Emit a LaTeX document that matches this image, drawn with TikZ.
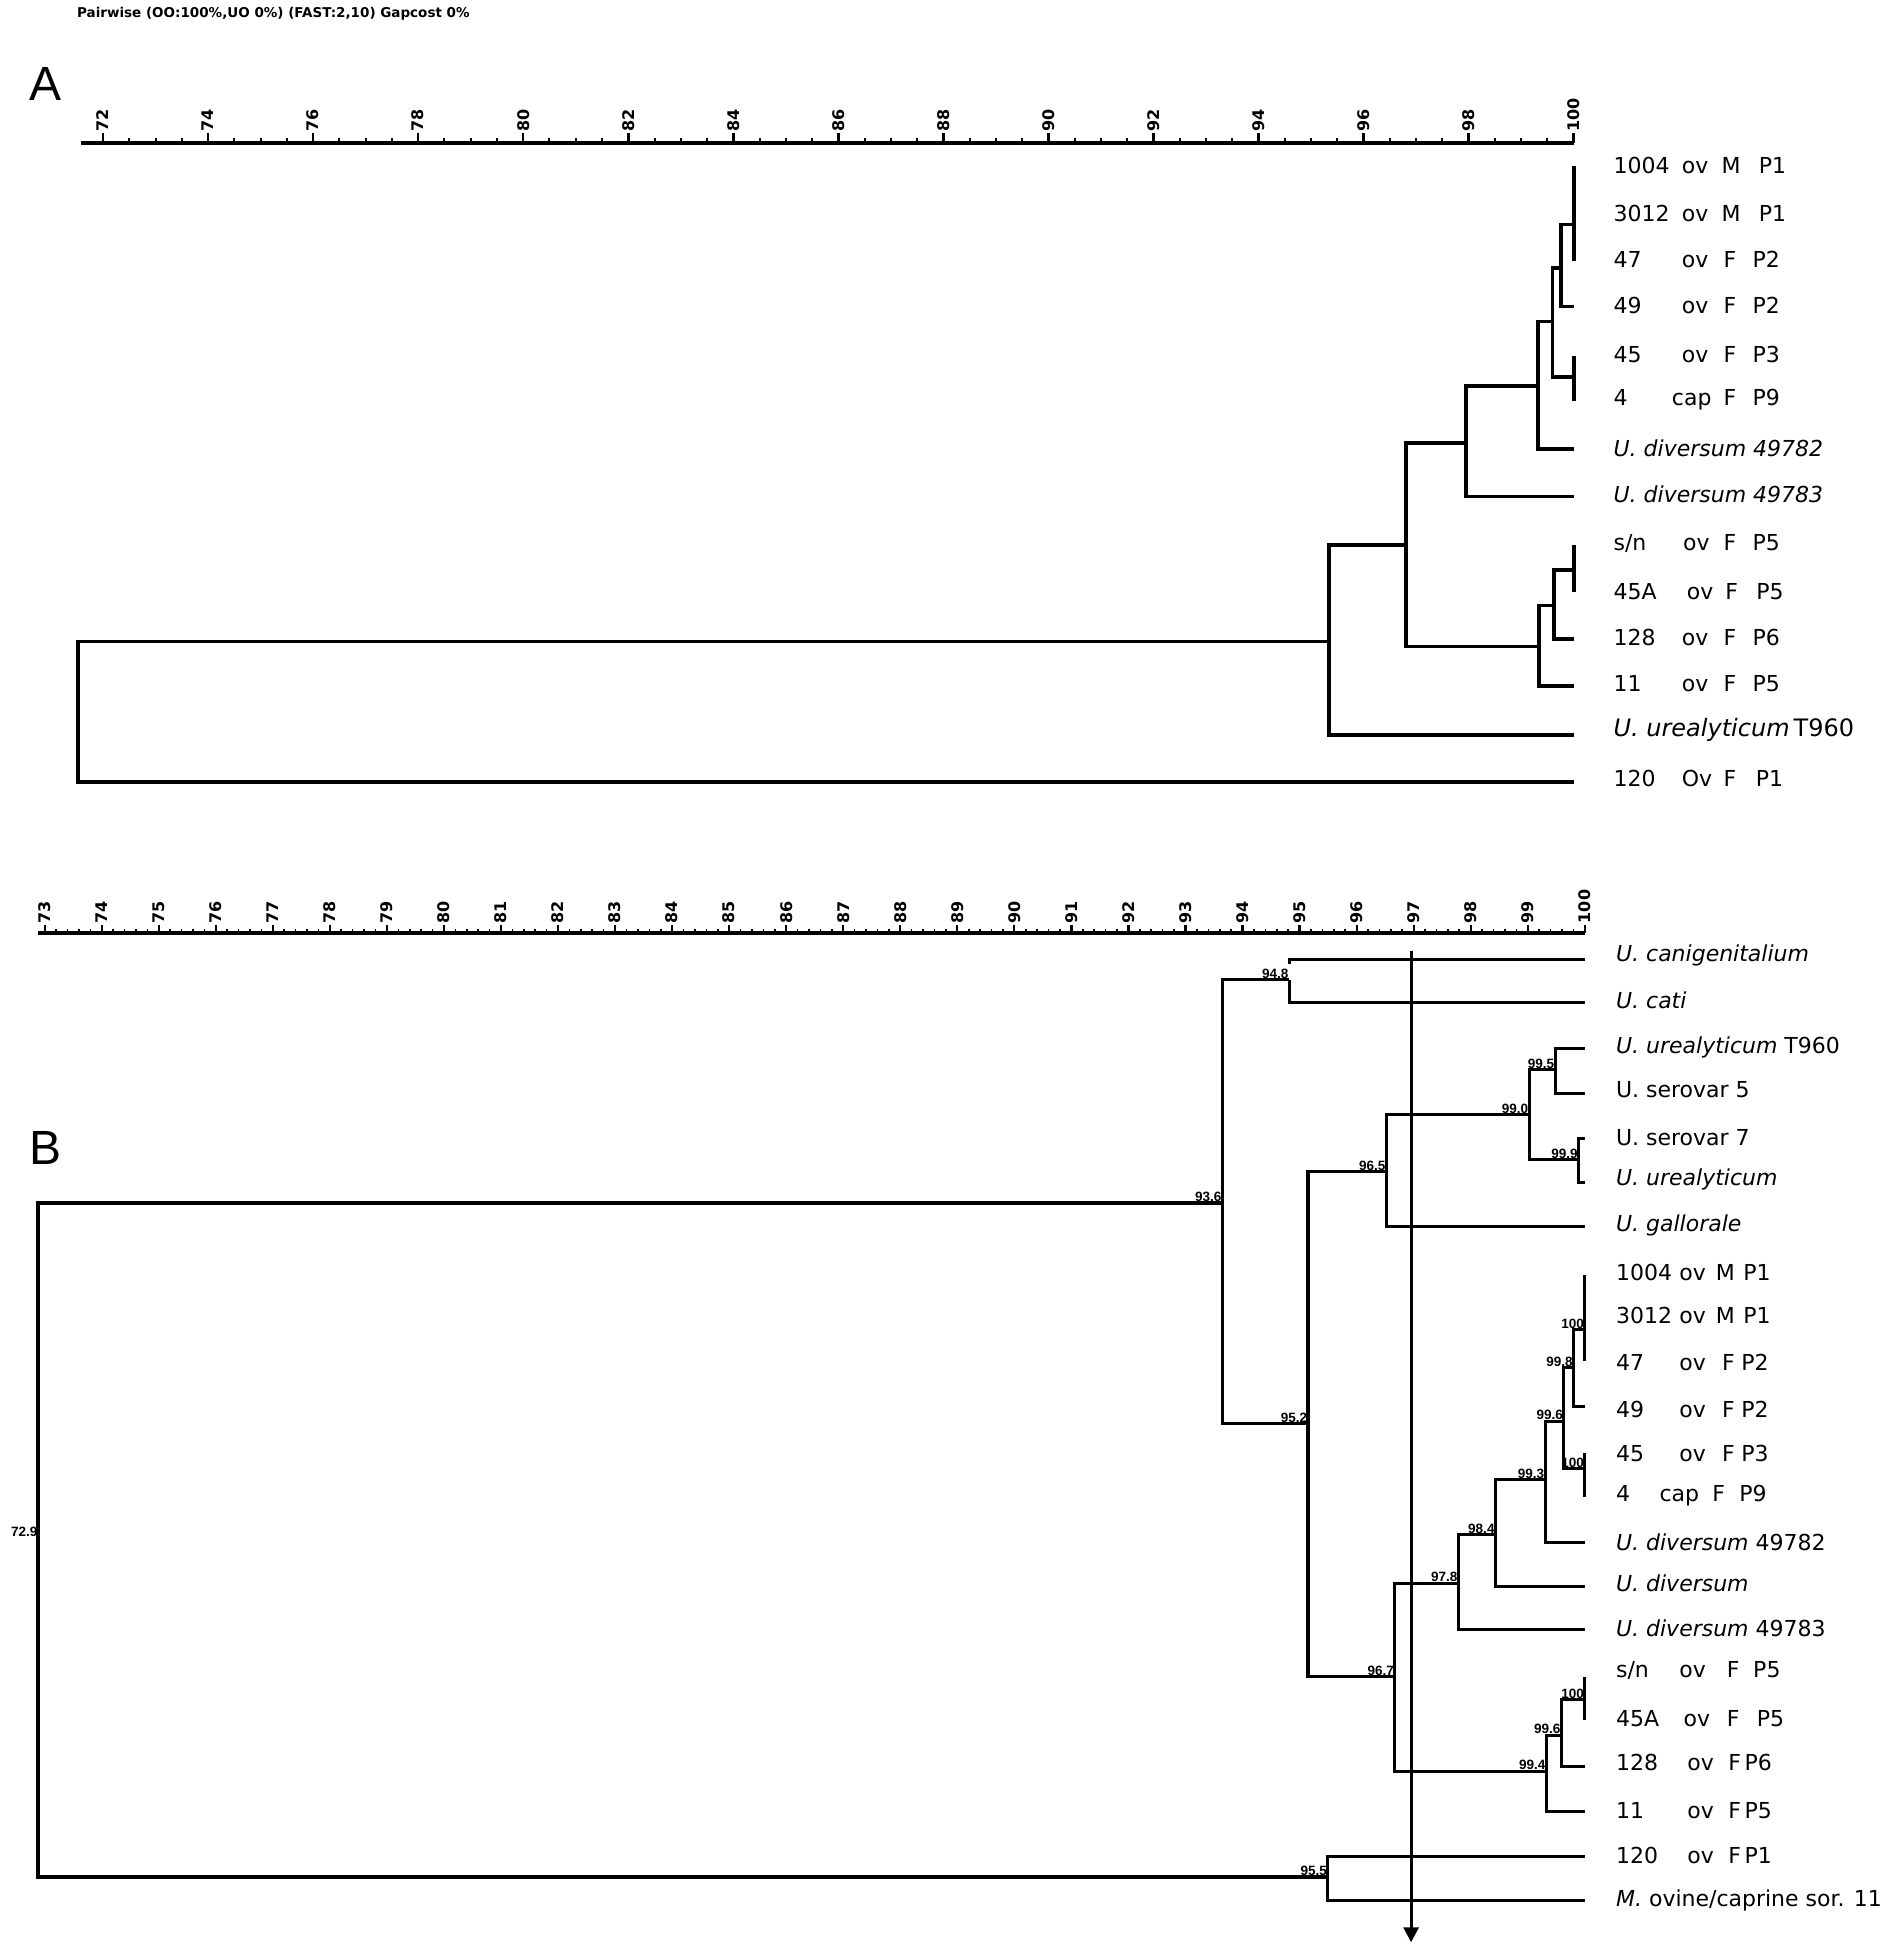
\documentclass[tikz,border=0pt]{standalone}
\usepackage{fontspec}
\setmainfont{DejaVu Sans}
\newfontfamily\libsans{Liberation Sans}
\usetikzlibrary{arrows.meta}
\newdimen\spx \spx=1.2413pt
\newcommand\lrow[7]{\makebox[#1\spx][l]{#2}\makebox[#3\spx][l]{#4}\makebox[#5\spx][l]{#6}#7}
\tikzset{
  treeA/.style={line width=3.7pt, line join=miter},
  treeB/.style={line width=3pt, line join=miter},
  leaflab/.style={anchor=west, inner sep=0pt, font=\fontsize{22}{24}\selectfont},
  nlab/.style={anchor=south east, inner sep=0.8pt, font=\libsans\bfseries\fontsize{13.5}{13.5}\selectfont},
  axlab/.style={rotate=90, anchor=west, inner sep=0pt, font=\bfseries\fontsize{16}{16}\selectfont},
  panellab/.style={inner sep=0pt, font=\libsans\fontsize{48}{48}\selectfont},
}
\begin{document}
\begin{tikzpicture}[x=1.2413pt, y=-1.2413pt]
\useasboundingbox (0,0) rectangle (1525,1568);
\fill[white] (0,0) rectangle (1525,1568);

% title and panel letters
\node[anchor=west, inner sep=0pt, font=\bfseries\fontsize{13.5}{13.5}\selectfont] (title) at (62,11) {Pairwise (OO:100\%,UO 0\%) (FAST:2,10) Gapcost 0\%};
\node[panellab] (labA) at (37,68) {A};
\node[panellab] (labB) at (37,925) {B};

% ---------------- axis A ----------------
\draw[line width=4.2pt] (65,115) -- (1268,115);
\foreach \v in {72,72.5,...,100} {\draw[line width=2pt] ({83+(\v-72)*42.32},115) -- ++(0,-4);}
\foreach \v in {72,74,...,100} {
  \draw[line width=2.6pt] ({83+(\v-72)*42.32},115) -- ++(0,-8);
  \node[axlab] (axa\v) at ({83+(\v-72)*42.32},106) {\v};
}

% ---------------- tree A ----------------
\coordinate (a1) at (1268,134);
\coordinate (a2) at (1268,173);
\coordinate (a3) at (1268,210);
\coordinate (a4) at (1268,247);
\coordinate (a5) at (1268,287);
\coordinate (a6) at (1268,323);
\coordinate (a7) at (1268,362);
\coordinate (a8) at (1268,400);
\coordinate (a9) at (1268,439);
\coordinate (a10) at (1268,477);
\coordinate (a11) at (1268,515);
\coordinate (a12) at (1268,553);
\coordinate (a13) at (1268,592);
\coordinate (a14) at (1268,630);
\coordinate (n1) at (1268,181);
\coordinate (n2) at (1258,216);
\coordinate (n3) at (1268,304);
\coordinate (n4) at (1251,259);
\coordinate (n5) at (1239,311);
\coordinate (n6) at (1181,357);
\coordinate (n9) at (1268,459);
\coordinate (na) at (1252,488);
\coordinate (nb) at (1240,521);
\coordinate (n7) at (1133,439);
\coordinate (n8) at (1071,517);
\coordinate (rA) at (63,573);

\draw[treeA] (a1) -- (a3);
\draw[treeA] (n1) -| (n2) |- (a4);
\draw[treeA] (a5) -- (a6);
\draw[treeA] (n2) -| (n4) |- (n3);
\draw[treeA] (n4) -| (n5) |- (a7);
\draw[treeA] (n5) -| (n6) |- (a8);
\draw[treeA] (a9) -- (a10);
\draw[treeA] (n9) -| (na) |- (a11);
\draw[treeA] (na) -| (nb) |- (a12);
\draw[treeA] (n6) -| (n7) |- (nb);
\draw[treeA] (n7) -| (n8) |- (a13);
\draw[treeA] (n8) -| (rA) |- (a14);

\node[leaflab] (la1) at (1300,133) {\lrow{55}{1004}{32}{ov}{30}{M}{P1}};
\node[leaflab] (la2) at (1300,172) {\lrow{55}{3012}{32}{ov}{30}{M}{P1}};
\node[leaflab] (la3) at (1300,209) {\lrow{55}{47}{33.6}{ov}{23.4}{F}{P2}};
\node[leaflab] (la4) at (1300,246) {\lrow{55}{49}{33.6}{ov}{23.4}{F}{P2}};
\node[leaflab] (la5) at (1300,286) {\lrow{55}{45}{33.6}{ov}{23.4}{F}{P3}};
\node[leaflab] (la6) at (1300,322) {\lrow{47}{4}{41.6}{cap}{23.4}{F}{P9}};
\node[leaflab] (la7) at (1300,361) {\textit{U. diversum 49782}};
\node[leaflab] (la8) at (1300,398) {\textit{U. diversum 49783}};
\node[leaflab] (la9) at (1300,438) {\lrow{56}{s/n}{32.6}{ov}{23.4}{F}{P5}};
\node[leaflab] (la10) at (1300,477) {\lrow{59}{45A}{31}{ov}{25}{F}{P5}};
\node[leaflab] (la11) at (1300,514) {\lrow{55}{128}{33.6}{ov}{23.4}{F}{P6}};
\node[leaflab] (la12) at (1300,551) {\lrow{55}{11}{33.6}{ov}{23.4}{F}{P5}};
\node[leaflab, font=\fontsize{24}{26}\selectfont] (la13) at (1300,588) {\textit{U. urealyticum}\,T960};
\node[leaflab] (la14) at (1300,627) {\lrow{55}{120}{33.6}{Ov}{26}{F}{P1}};

% ---------------- axis B ----------------
\draw[line width=3.8pt] (31,752) -- (1277,752);
\foreach \i in {0,...,135} {\draw[line width=1.6pt] ({36+\i*9.192},752) -- ++(0,-3.5);}
\foreach \v in {73,...,100} {
  \draw[line width=2.2pt] ({36+(\v-73)*45.96},752) -- ++(0,-7);
  \node[axlab] (axb\v) at ({36+(\v-73)*45.96},744) {\v};
}

% ---------------- tree B ----------------
\coordinate (b1) at (1277,773);
\coordinate (b2) at (1277,808);
\coordinate (b3) at (1277,844.5);
\coordinate (b4) at (1277,881);
\coordinate (b5) at (1277,917);
\coordinate (b6) at (1277,953);
\coordinate (b7) at (1277,988);
\coordinate (b8) at (1277,1027);
\coordinate (b9) at (1277,1062);
\coordinate (b10) at (1277,1097);
\coordinate (b11) at (1277,1133);
\coordinate (b12) at (1277,1171);
\coordinate (b13) at (1277,1206);
\coordinate (b14) at (1277,1243);
\coordinate (b15) at (1277,1278);
\coordinate (b16) at (1277,1313);
\coordinate (b17) at (1277,1351);
\coordinate (b18) at (1277,1386);
\coordinate (b19) at (1277,1423);
\coordinate (b20) at (1277,1459.5);
\coordinate (b21) at (1277,1496);
\coordinate (b22) at (1277,1531);

\coordinate (canc) at (1039,773);
\coordinate (cani) at (1039,777);
\coordinate (m948) at (1039,789.5);
\coordinate (m995) at (1253,862);
\coordinate (m999) at (1272,934.5);
\coordinate (m990) at (1232,898);
\coordinate (m965) at (1117,944);
\coordinate (m100a) at (1277,1071.5);
\coordinate (m998) at (1268,1102);
\coordinate (m100b) at (1277,1183);
\coordinate (m996) at (1260,1145);
\coordinate (m993) at (1245,1192);
\coordinate (m984) at (1205,1236.6);
\coordinate (m978) at (1175,1275.5);
\coordinate (m100c) at (1277,1369.6);
\coordinate (m996b) at (1258,1398);
\coordinate (m994) at (1246,1427);
\coordinate (m967) at (1124,1351);
\coordinate (m952) at (1054,1147);
\coordinate (m936) at (985,969);
\coordinate (m955) at (1070,1512);
\coordinate (rB) at (31,1234);
\coordinate (arT) at (1137,766);
\coordinate (arB) at (1137,1565);

\draw[treeB] (b1) -- (canc) -- (cani);
\draw[treeB] (m948) |- (b2);
\draw[treeB] (b3) -| (m995) |- (b4);
\draw[treeB] (b5) -| (m999) |- (b6);
\draw[treeB] (m995) -| (m990) |- (m999);
\draw[treeB] (m990) -| (m965) |- (b7);
\draw[treeB] (b8) -- (b10);
\draw[treeB] (m100a) -| (m998) |- (b11);
\draw[treeB] (b12) -- (b13);
\draw[treeB] (m998) -| (m996) |- (m100b);
\draw[treeB] (m996) -| (m993) |- (b14);
\draw[treeB] (m993) -| (m984) |- (b15);
\draw[treeB] (m984) -| (m978) |- (b16);
\draw[treeB] (b17) -- (b18);
\draw[treeB] (m100c) -| (m996b) |- (b19);
\draw[treeB] (m996b) -| (m994) |- (b20);
\draw[treeB] (m978) -| (m967) |- (m994);
\draw[treeB, line width=3.5pt] (m965) -| (m952) |- (m967);
\draw[treeB] (m948) -| (m936) |- (m952);
\draw[treeB] (b21) -| (m955) |- (b22);
\draw[treeB, line width=4pt] (m936) -| (rB) |- (m955);
\draw[line width=3pt, -{Triangle[width=15pt,length=15pt]}] (arT) -- (arB);

% node values
\node[nlab] (t948) at (m948) {94.8};
\node[nlab] (t936) at (m936) {93.6};
\node[nlab] (t995) at (m995) {99.5};
\node[nlab] (t990) at (m990) {99.0};
\node[nlab] (t999) at (m999) {99.9};
\node[nlab] (t965) at (m965) {96.5};
\node[nlab] (t952) at (m952) {95.2};
\node[nlab] (t100a) at (m100a) {100};
\node[nlab] (t998) at (m998) {99.8};
\node[nlab] (t996) at (m996) {99.6};
\node[nlab] (t100b) at (m100b) {100};
\node[nlab] (t993) at (m993) {99.3};
\node[nlab] (t984) at (m984) {98.4};
\node[nlab] (t978) at (m978) {97.8};
\node[nlab] (t967) at (m967) {96.7};
\node[nlab] (t100c) at (m100c) {100};
\node[nlab] (t996b) at (m996b) {99.6};
\node[nlab] (t994) at (m994) {99.4};
\node[nlab] (t955) at (m955) {95.5};
\node[nlab, anchor=east] (trB) at (rB) {72.9};

% leaf labels B
\node[leaflab] (lb1) at (1302,770) {\textit{U. canigenitalium}};
\node[leaflab] (lb2) at (1302,806) {\textit{U. cati}};
\node[leaflab] (lb3) at (1302,844) {\textit{U. urealyticum} T960};
\node[leaflab] (lb4) at (1302,878) {U. serovar 5};
\node[leaflab] (lb5) at (1302,917) {U. serovar 7};
\node[leaflab] (lb6) at (1302,950) {\textit{U. urealyticum}};
\node[leaflab] (lb7) at (1302,987) {\textit{U. gallorale}};
\node[leaflab] (lb8) at (1302,1025) {\lrow{51}{1004}{29.5}{ov}{22}{M}{P1}};
\node[leaflab] (lb9) at (1302,1060) {\lrow{51}{3012}{29.5}{ov}{22}{M}{P1}};
\node[leaflab] (lb10) at (1302,1098) {\lrow{51}{47}{34.5}{ov}{15.5}{F}{P2}};
\node[leaflab] (lb11) at (1302,1136) {\lrow{51}{49}{34.5}{ov}{15.5}{F}{P2}};
\node[leaflab] (lb12) at (1302,1171) {\lrow{51}{45}{34.5}{ov}{15.5}{F}{P3}};
\node[leaflab] (lb13) at (1302,1205) {\lrow{35}{4}{42.5}{cap}{21.8}{F}{P9}};
\node[leaflab] (lb14) at (1302,1243) {\textit{U. diversum} 49782};
\node[leaflab] (lb15) at (1302,1276) {\textit{U. diversum}};
\node[leaflab] (lb16) at (1302,1312) {\textit{U. diversum} 49783};
\node[leaflab] (lb17) at (1302,1346) {\lrow{51}{s/n}{38.2}{ov}{21.3}{F}{P5}};
\node[leaflab] (lb18) at (1302,1385) {\lrow{54.5}{45A}{34.7}{ov}{24.3}{F}{P5}};
\node[leaflab] (lb19) at (1302,1420) {\lrow{57.5}{128}{33}{ov}{13}{F}{P6}};
\node[leaflab] (lb20) at (1302,1459) {\lrow{57.5}{11}{33}{ov}{13}{F}{P5}};
\node[leaflab] (lb21) at (1302,1495) {\lrow{57.5}{120}{33}{ov}{13}{F}{P1}};
\node[leaflab] (lb22) at (1302,1531) {\textit{M.} ovine/caprine sor. 11};
\end{tikzpicture}
\end{document}
